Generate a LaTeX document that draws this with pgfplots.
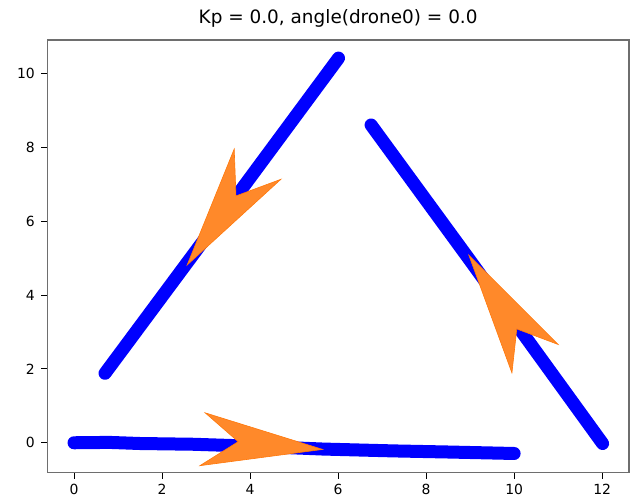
\documentclass[border=0pt]{standalone}
\usepackage{fontspec}
\setmainfont{DejaVu Sans}
\usepackage{pgfplots}
\pgfplotsset{compat=1.18}

\definecolor{trailblue}{RGB}{0,0,255}
\definecolor{arrowfill}{RGB}{255,137,42}
\definecolor{arrowedge}{RGB}{255,120,10}
\definecolor{spine}{RGB}{110,110,110}

\begin{document}
\begin{tikzpicture}
\useasboundingbox (-47.3bp,-28.3bp) rectangle (584.7bp,472.7bp);
\begin{axis}[
  at={(0,0)}, anchor=south west,
  scale only axis,
  width=581.7bp, height=432.7bp,
  xmin=-0.607, xmax=12.61,
  ymin=-0.81, ymax=10.9,
  xtick={0,2,...,12},
  ytick={0,2,...,10},
  tick align=outside,
  major tick length=6bp,
  tick style={black, line width=0.8bp},
  axis line style={spine, line width=1.3bp},
  xtick pos=bottom, ytick pos=left,
  /pgf/number format/assume math mode=true,
  ticklabel style={font=\fontsize{14}{14}\selectfont},
  xticklabel style={yshift=-2bp},
  yticklabel style={xshift=-3bp},
  title={Kp = 0.0, angle(drone0) = 0.0},
  title style={font=\fontsize{18.5}{20}\selectfont, at={(0.5,1)}, anchor=base, yshift=11bp},
]
% blue trajectories
\addplot[trailblue, line width=13bp, line cap=round, line join=round] coordinates {
  (0.705,1.88) (3.36,6.14) (6.01,10.41)
};
\addplot[trailblue, line width=13bp, line cap=round, line join=round] coordinates {
  (6.75,8.60) (8.97,4.98) (12.01,-0.02)
};
\addplot[trailblue, line width=13bp, line cap=round, line join=round] coordinates {
  (0,0) (0.8,0.01) (1.5,-0.02) (2.7,-0.04) (4.0,-0.09) (5.66,-0.17)
  (7.25,-0.22) (8.5,-0.25) (10.0,-0.29)
};
% orange arrow heads
\addplot[fill=arrowfill, draw=arrowedge, line width=0.6bp] coordinates {
  (2.57,4.81) (3.64,7.95) (3.68,6.68) (4.70,7.13)
} -- cycle;
\addplot[fill=arrowfill, draw=arrowedge, line width=0.6bp] coordinates {
  (8.97,5.08) (11.0,2.66) (10.06,3.08) (9.95,1.89)
} -- cycle;
\addplot[fill=arrowfill, draw=arrowedge, line width=0.6bp] coordinates {
  (5.65,-0.18) (2.98,0.81) (3.73,0.03) (2.86,-0.62)
} -- cycle;
\end{axis}
\end{tikzpicture}
\end{document}
